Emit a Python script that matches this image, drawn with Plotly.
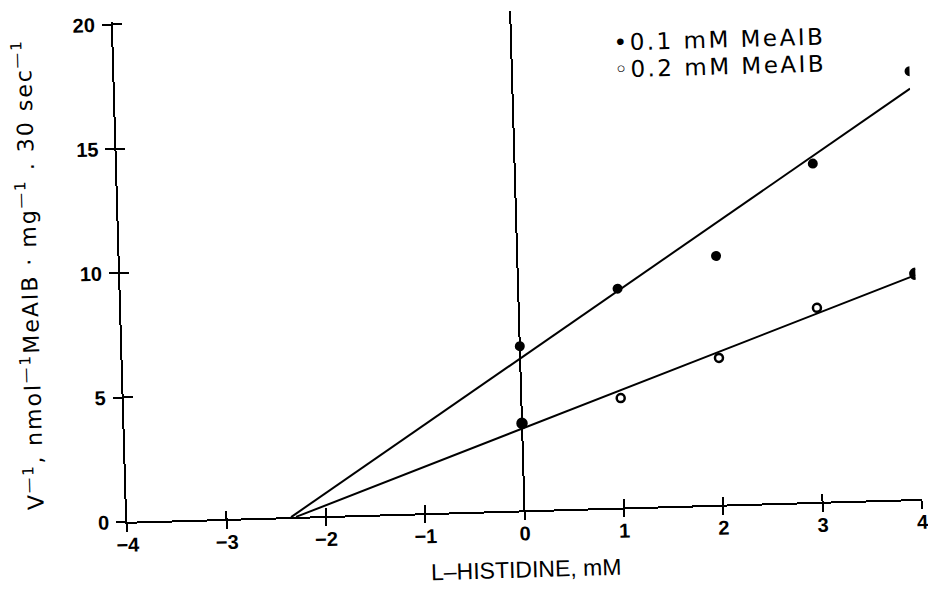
import plotly.graph_objects as go

# L-histidine concentration (mM)
histidine_mM = [0, 1, 2, 3, 4]
# reciprocal MeAIB uptake, nmol^-1 . mg . 30 sec
inv_v_01 = [6.6, 8.8, 10.0, 13.6, 17.2]
inv_v_02 = [3.5, 4.4, 5.9, 7.8, 9.05]
symbols_02 = ["circle", "circle-open", "circle-open", "circle-open", "circle"]
sizes_02 = [9, 8, 8, 8, 10]

# fitted Dixon lines, from the common x-intercept to the last concentration
fit_x_01 = [-2.35, 4.0]
fit_y_01 = [0.0, 16.5]
fit_x_02 = [-2.3, 4.0]
fit_y_02 = [0.0, 9.0]

x_ticks = [-4, -3, -2, -1, 0, 1, 2, 3, 4]
y_ticks = [0, 5, 10, 15, 20]
legend_labels = ["\u20220.1 mM MeAIB", "\u25e60.2 mM MeAIB"]

BLACK = "black"
TICK_FONT = dict(family="Liberation Sans", size=20, color=BLACK, weight="bold")

fig = go.Figure()

# fitted lines (drawn on the overlay axes that carry the inner tick halves)
for fx, fy in [(fit_x_01, fit_y_01), (fit_x_02, fit_y_02)]:
    fig.add_trace(go.Scatter(
        x=fx, y=fy, mode="lines", xaxis="x2", yaxis="y2",
        line=dict(color=BLACK, width=2), showlegend=False, hoverinfo="skip"))

fig.add_trace(go.Scatter(
    x=histidine_mM, y=inv_v_01, mode="markers", name="0.1 mM MeAIB",
    marker=dict(symbol="circle", size=10, color=BLACK, opacity=1),
    showlegend=False))
fig.add_trace(go.Scatter(
    x=histidine_mM, y=inv_v_02, mode="markers", name="0.2 mM MeAIB",
    marker=dict(symbol=symbols_02, size=sizes_02, color=BLACK, opacity=1,
                line=dict(color=BLACK, width=2.5)), showlegend=False))

axis_common = dict(showgrid=False, automargin=False, tickcolor=BLACK,
                   tickwidth=2, linecolor=BLACK, linewidth=2)

fig.update_layout(
    width=928, height=604,
    margin=dict(l=121, r=12, t=12, b=92),
    paper_bgcolor="white", plot_bgcolor="white",
    showlegend=False,
    xaxis=dict(
        range=[-4, 4], tickvals=x_ticks, ticks="outside", ticklen=8,
        showline=True, zeroline=True, zerolinecolor=BLACK, zerolinewidth=2,
        tickfont=TICK_FONT, ticklabelstandoff=-4,
        title=dict(text="L\u2013HISTIDINE, mM", standoff=18,
                   font=dict(family="Liberation Sans", size=23, color=BLACK)),
        **axis_common),
    xaxis2=dict(
        range=[-4, 4], tickvals=x_ticks, ticks="inside", ticklen=8,
        overlaying="x", anchor="y2", side="bottom", showline=False,
        zeroline=False, showticklabels=False, **axis_common),
    yaxis=dict(
        range=[0, 20.1], tickvals=y_ticks, ticks="outside", ticklen=9,
        showline=True, zeroline=False, tickfont=TICK_FONT, ticklabelstandoff=3,
        title=dict(
            text=('<span style="letter-spacing:2px">V<sup>\u20141</sup>, '
                  'nmol<sup>\u20141</sup>MeAIB \u00b7 mg<sup>\u20141</sup> . '
                  '30 sec<sup>\u20141</sup></span>'),
            standoff=36,
            font=dict(family="DejaVu Sans", size=22, color=BLACK)),
        **axis_common),
    yaxis2=dict(
        range=[0, 20.1], tickvals=y_ticks, ticks="inside", ticklen=9,
        overlaying="y", anchor="x2", side="left", showline=False,
        zeroline=False, showticklabels=False, **axis_common),
)

# key in the upper right corner
for label, ypos in zip(legend_labels, [0.929, 0.876]):
    fig.add_annotation(
        xref="paper", yref="paper", x=0.627, y=ypos,
        xanchor="left", yanchor="middle", showarrow=False,
        text='<span style="letter-spacing:2.5px">' + label + "</span>",
        font=dict(family="DejaVu Sans", size=23, color=BLACK))

# the printed figure sits slightly turned on the page
post = ("var gd=document.getElementById('{plot_id}');"
        "document.documentElement.style.overflow='hidden';"
        "document.body.style.margin='0';document.body.style.overflow='hidden';"
        "gd.style.transformOrigin='50% 50%';gd.style.transform='rotate(-1.65deg)';")

fig.write_html("out.html", post_script=post)
